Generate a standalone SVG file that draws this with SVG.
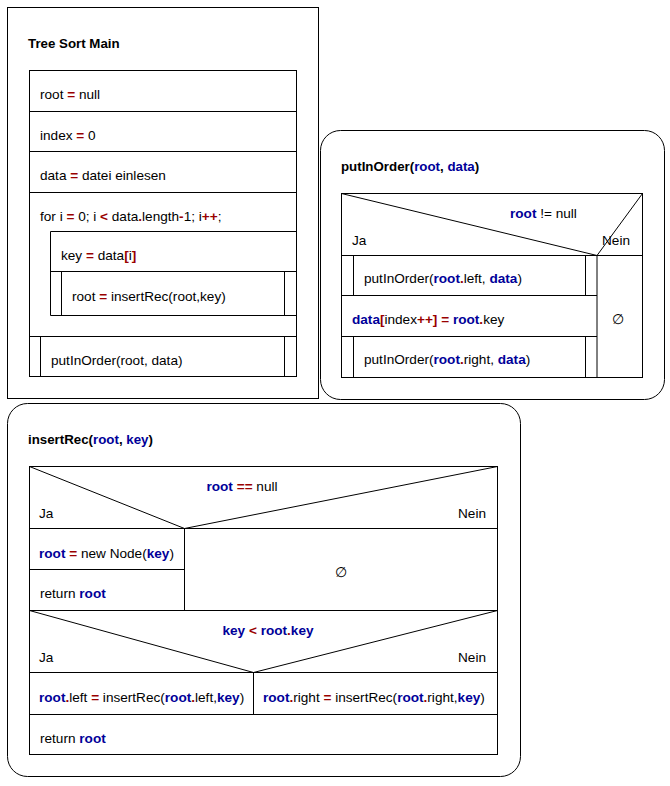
<svg xmlns="http://www.w3.org/2000/svg" width="670" height="786" viewBox="0 0 670 786">
<style>
.box{fill:#fff;stroke:#000;stroke-width:1}
.ln{fill:none;stroke:#000;stroke-width:1}
text{font-family:"Liberation Sans",Arial,sans-serif;font-size:13.6px;fill:#000}
.t{font-weight:bold;font-size:13.3px}
.v{fill:#000099;font-weight:bold}
.o{fill:#990000;font-weight:bold}
</style>
<rect width="670" height="786" fill="#fff"/>
<g id="main">
<rect class="box" x="7.5" y="7.5" width="311" height="391"/>
<text class="t" x="28" y="48">Tree Sort Main</text>
<rect class="ln" x="29.5" y="70.5" width="267" height="306"/>
<path class="ln" d="M29.5 111.5H296.5M29.5 151.5H296.5M29.5 192.5H296.5M50.5 231.5H296.5M50.5 231.5V315.5H296.5M50.5 271.5H296.5M61.5 271.5V315.5M284.5 271.5V315.5M29.5 336.5H296.5M40.5 336.5V376.5M284.5 336.5V376.5"/>
<text x="40" y="99">root <tspan class="o">=</tspan> null</text>
<text x="40" y="140">index <tspan class="o">=</tspan> 0</text>
<text x="40" y="180">data <tspan class="o">=</tspan> datei einlesen</text>
<text x="40" y="221">for i <tspan class="o">=</tspan> 0; i <tspan class="o">&lt;</tspan> data<tspan class="o">.</tspan>length<tspan class="o">-</tspan>1; i<tspan class="o">++</tspan>;</text>
<text x="61" y="260">key <tspan class="o">=</tspan> data<tspan class="o">[</tspan>i<tspan class="o">]</tspan></text>
<text x="72" y="301">root <tspan class="o">=</tspan> insertRec(root,key)</text>
<text x="51" y="365">putInOrder(root, data)</text>
</g>
<g id="putInOrder">
<rect class="box" x="320.5" y="130.5" width="344" height="269" rx="20" ry="20"/>
<text class="t" x="341" y="171">putInOrder(<tspan class="v">root</tspan>, <tspan class="v">data</tspan>)</text>
<rect class="ln" x="341.5" y="193.5" width="301" height="184"/>
<path class="ln" d="M341.5 193.5L597 255.5L642.5 193.5M341.5 255.5H642.5M597 255.5V377.5M341.5 295.5H597M341.5 336.5H597M353.5 255.5V295.5M585.5 255.5V295.5M353.5 336.5V377.5M585.5 336.5V377.5"/>
<text x="510" y="218"><tspan class="v">root</tspan> != null</text>
<text x="352" y="245">Ja</text>
<text x="602" y="245">Nein</text>
<text x="364" y="283">putInOrder(<tspan class="v">root</tspan><tspan class="o">.</tspan>left, <tspan class="v">data</tspan>)</text>
<text x="352" y="324"><tspan class="v">data</tspan><tspan class="o">[</tspan>index<tspan class="o">++]</tspan> <tspan class="o">=</tspan> <tspan class="v">root</tspan><tspan class="o">.</tspan>key</text>
<text x="364" y="364">putInOrder(<tspan class="v">root</tspan><tspan class="o">.</tspan>right, <tspan class="v">data</tspan>)</text>
<text x="618" y="324" text-anchor="middle">∅</text>
</g>
<g id="insertRec">
<rect class="box" x="7.5" y="403.5" width="513" height="373" rx="20" ry="20"/>
<text class="t" x="28" y="444">insertRec(<tspan class="v">root</tspan>, <tspan class="v">key</tspan>)</text>
<rect class="ln" x="29.5" y="466.5" width="468" height="288"/>
<path class="ln" d="M29.5 466.5L184.5 528.5L497.5 466.5M29.5 528.5H497.5M184.5 528.5V610.5M29.5 569.5H184.5M29.5 610.5H497.5M29.5 610.5L253.5 672.5L497.5 610.5M29.5 672.5H497.5M253.5 672.5V714.5M29.5 714.5H497.5"/>
<text x="242" y="491" text-anchor="middle"><tspan class="v">root</tspan> <tspan class="o">==</tspan> null</text>
<text x="39" y="518">Ja</text>
<text x="486" y="518" text-anchor="end">Nein</text>
<text x="39" y="558"><tspan class="v">root</tspan> <tspan class="o">=</tspan> new Node(<tspan class="v">key</tspan>)</text>
<text x="40" y="598">return <tspan class="v">root</tspan></text>
<text x="341" y="577" text-anchor="middle">∅</text>
<text x="268" y="635" text-anchor="middle"><tspan class="v">key</tspan> <tspan class="o">&lt;</tspan> <tspan class="v">root</tspan><tspan class="o">.</tspan><tspan class="v">key</tspan></text>
<text x="39" y="662">Ja</text>
<text x="486" y="662" text-anchor="end">Nein</text>
<text x="39" y="702"><tspan class="v">root</tspan><tspan class="o">.</tspan>left <tspan class="o">=</tspan> insertRec(<tspan class="v">root</tspan><tspan class="o">.</tspan>left,<tspan class="v">key</tspan>)</text>
<text x="263" y="702"><tspan class="v">root</tspan><tspan class="o">.</tspan>right <tspan class="o">=</tspan> insertRec(<tspan class="v">root</tspan><tspan class="o">.</tspan>right,<tspan class="v">key</tspan>)</text>
<text x="40" y="743">return <tspan class="v">root</tspan></text>
</g>
<g id="connectors"/>
</svg>
